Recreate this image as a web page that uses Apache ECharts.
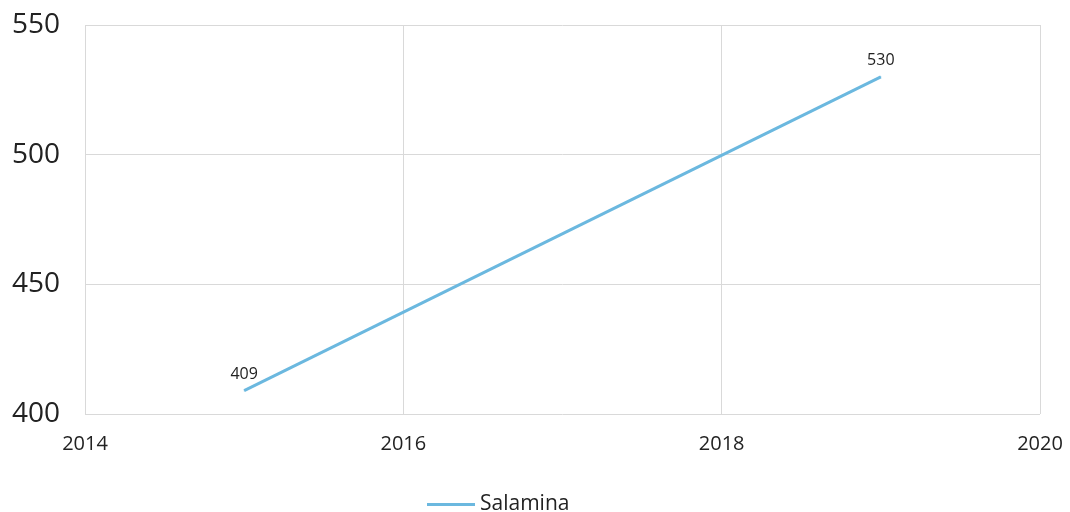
<!DOCTYPE html>
<html>
<head>
<meta charset="utf-8">
<script src="https://cdn.jsdelivr.net/npm/echarts@6/dist/echarts.min.js"></script>
<style>
  html, body { margin: 0; padding: 0; background: #fff; }
  #chart { width: 1070px; height: 512px; }
</style>
</head>
<body>
<div id="chart"></div>
<script>
const years = [2015, 2019];
const salamina = [409, 530];
const seriesName = 'Salamina';

const chart = echarts.init(document.getElementById('chart'));

const option = {
  animation: false,
  textStyle: { fontFamily: 'Open Sans' },
  grid: { left: 85, right: 30, top: 25, bottom: 98 },
  legend: {
    top: 489,
    left: 422,
    itemWidth: 48,
    itemHeight: 3,
    itemGap: 10,
    icon: 'rect',
    textStyle: { fontSize: 21, color: '#222', fontFamily: 'Open Sans' },
    data: [seriesName]
  },
  xAxis: {
    type: 'value',
    min: 2014,
    max: 2020,
    interval: 2,
    axisLine: { show: false },
    axisTick: { show: false },
    splitLine: { show: true, lineStyle: { color: '#d9d9d9', width: 1 } },
    axisLabel: {
      fontSize: 20, color: '#222', margin: 20, fontFamily: 'Open Sans',
      formatter: v => String(v)
    }
  },
  yAxis: {
    type: 'value',
    min: 400,
    max: 550,
    interval: 50,
    axisLine: { show: false },
    axisTick: { show: false },
    splitLine: { show: true, lineStyle: { color: '#d9d9d9', width: 1 } },
    axisLabel: { fontSize: 28, color: '#222', margin: 73, align: 'left', fontFamily: 'Open Sans' }
  },
  series: [{
    name: seriesName,
    type: 'line',
    data: years.map((y, i) => [y, salamina[i]]),
    showSymbol: true,
    symbol: 'circle',
    symbolSize: 1,
    lineStyle: { color: '#6bb8df', width: 3 },
    itemStyle: { color: '#6bb8df' },
    label: {
      show: true,
      position: 'top',
      distance: 8,
      fontSize: 16,
      color: '#222',
      fontFamily: 'Open Sans',
      formatter: p => p.value[1]
    }
  }]
};

chart.setOption(option);
window.addEventListener('resize', () => chart.resize());
</script>
</body>
</html>
